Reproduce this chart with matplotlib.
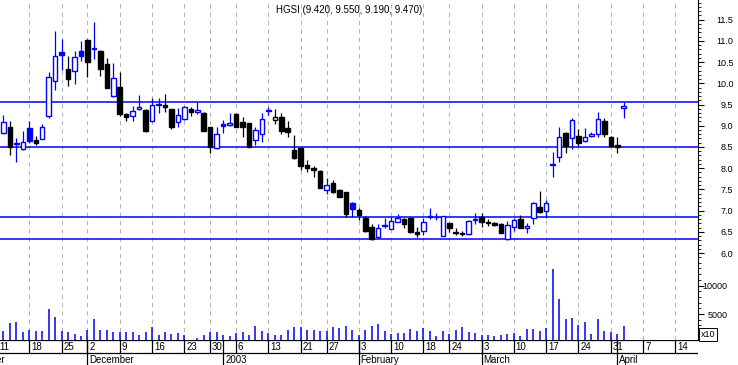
import matplotlib
matplotlib.use("Agg")
import matplotlib.pyplot as plt
from matplotlib.patches import Rectangle
from matplotlib.ticker import FixedLocator, MultipleLocator
import numpy as np
import pandas as pd

plt.rcParams['font.family'] = ['Liberation Sans', 'DejaVu Sans']

title = "HGSI (9.420, 9.550, 9.190, 9.470)"
first_day = "2002-11-12"
holidays = ["2002-11-28", "2002-12-25", "2003-01-01", "2003-01-20", "2003-02-17"]

# daily OHLC, Nov 12 2002 .. Apr 2 2003
opens = [8.82, 8.96, 8.60, 8.45, 8.94, 8.66, 8.69, 9.23, 10.05, 10.73, 10.34, 10.28, 10.76,
         11.02, 10.81, 10.76, 10.45, 9.69, 9.91, 9.28, 9.23, 9.39, 9.37, 9.10, 9.50, 9.49, 9.39,
         9.08, 9.15, 9.39, 9.33, 9.31, 8.96, 8.47,
         9.04, 9.01, 9.28, 9.08, 9.06, 8.66, 8.81, 9.34, 9.13, 9.20, 8.95, 8.43, 8.47, 8.08, 8.01,
         7.94, 7.49, 7.65, 7.49, 7.43, 7.19,
         7.02, 6.82, 6.61, 6.38, 6.65, 6.57, 6.74, 6.81, 6.84, 6.49, 6.53, 6.88, 6.85, 6.41, 6.70,
         6.50, 6.47, 6.45, 6.79,
         6.86, 6.73, 6.72, 6.69, 6.33, 6.62, 6.80, 6.60, 6.82, 7.08, 7.00, 8.08, 8.27, 8.82, 8.70,
         8.76, 8.65, 8.76, 8.81, 9.12, 8.73,
         8.55, 9.42]
highs = [9.25, 9.11, 8.72, 8.88, 9.11, 8.77, 9.04, 10.27, 11.23, 11.03, 10.63, 10.76, 10.99,
         11.03, 11.45, 10.78, 10.59, 10.47, 10.26, 9.29, 9.46, 9.72, 9.40, 9.66, 9.65, 9.75, 9.40,
         9.41, 9.46, 9.45, 9.55, 9.32, 8.97, 8.96,
         9.14, 9.29, 9.29, 9.21, 9.07, 8.96, 9.29, 9.43, 9.39, 9.29, 9.11, 8.78, 8.48, 8.19, 8.05,
         7.95, 7.76, 7.72, 7.50, 7.44, 7.20,
         7.07, 6.88, 6.68, 6.68, 6.84, 6.86, 6.92, 6.82, 6.85, 6.62, 6.84, 7.07, 6.94, 6.87, 6.71,
         6.59, 6.52, 6.78, 6.94,
         6.94, 6.81, 6.74, 6.70, 6.77, 6.82, 6.90, 6.72, 7.21, 7.47, 7.25, 8.39, 8.98, 8.86, 9.18,
         8.92, 8.94, 8.85, 9.33, 9.18, 8.75,
         8.73, 9.55]
lows = [8.80, 8.31, 8.14, 8.44, 8.59, 8.55, 8.68, 9.18, 9.84, 10.31, 9.94, 9.99, 10.53,
        10.15, 10.56, 10.18, 9.88, 9.68, 9.24, 9.10, 9.12, 9.38, 8.85, 9.09, 9.31, 9.33, 8.92,
        8.96, 9.14, 9.24, 9.28, 8.87, 8.35, 8.46,
        8.82, 9.00, 8.97, 8.74, 8.50, 8.55, 8.62, 9.25, 9.04, 8.81, 8.74, 8.22, 7.96, 7.90, 7.80,
        7.53, 7.39, 7.42, 7.32, 6.86, 6.86,
        6.78, 6.51, 6.31, 6.37, 6.59, 6.56, 6.73, 6.60, 6.48, 6.39, 6.43, 6.81, 6.78, 6.40, 6.51,
        6.43, 6.41, 6.44, 6.68,
        6.62, 6.65, 6.64, 6.47, 6.30, 6.53, 6.59, 6.48, 6.68, 6.95, 6.82, 7.79, 8.15, 8.35, 8.45,
        8.52, 8.62, 8.73, 8.74, 8.74, 8.52,
        8.37, 9.19]
closes = [9.08, 8.51, 8.56, 8.62, 8.65, 8.60, 8.98, 10.14, 10.63, 10.67, 10.09, 10.61, 10.65,
          10.51, 10.83, 10.33, 9.90, 10.12, 9.28, 9.20, 9.35, 9.43, 8.88, 9.49, 9.52, 9.43, 8.98,
          9.25, 9.43, 9.32, 9.36, 8.88, 8.51, 8.80,
          8.99, 9.06, 8.98, 8.96, 8.51, 8.90, 9.15, 9.36, 9.21, 8.88, 8.86, 8.23, 8.06, 8.00, 7.97,
          7.54, 7.61, 7.45, 7.33, 6.92, 7.03,
          6.90, 6.52, 6.34, 6.59, 6.67, 6.76, 6.84, 6.68, 6.51, 6.45, 6.73, 6.85, 6.86, 6.87, 6.59,
          6.48, 6.45, 6.76, 6.81,
          6.74, 6.70, 6.67, 6.48, 6.66, 6.78, 6.60, 6.65, 7.18, 6.96, 7.18, 8.10, 8.73, 8.53, 9.14,
          8.60, 8.73, 8.81, 9.15, 8.81, 8.53,
          8.51, 9.47]
volumes = [2070, 3470, 3650, 1840, 2250, 2070, 2070, 5880, 4470, 2070, 1900, 1490, 1140,
           2250, 4120, 2200, 2200, 1900, 1900, 1840, 1840, 1320, 1900, 2720, 1320, 1900, 1490,
           1670, 1320, 300, 840, 1320, 1900, 1900,
           1320, 1140, 1670, 1900, 1320, 2900, 2070, 1670, 1320, 1320, 2200, 2720, 2720, 2200, 2200,
           2020, 2020, 2720, 2540, 2900, 2200,
           1320, 2200, 2900, 3250, 2020, 1490, 1670, 1670, 2370, 2020, 2540, 2020, 1140, 2020, 1490,
           2200, 2720, 1840, 1670,
           1320, 1320, 1140, 1320, 1490, 1670, 1140, 2370, 2370, 2020, 2540, 12900, 7630, 4120, 4300,
           3070, 3600, 1490, 4120, 2020, 1840,
           1490, 2900]
levels = [9.55, 8.5, 6.85, 6.33]
month_names = {11: "November", 12: "December", 1: "2003", 2: "February", 3: "March", 4: "April"}

blue = "#0000ff"

# trading calendar -> integer x positions
days = pd.bdate_range("2002-11-01", "2003-04-30")
days = days[~days.isin(pd.to_datetime(holidays))]
start = days.get_loc(pd.Timestamp(first_day))
pos = np.arange(len(days)) - start
weeks = days.to_period("W")
week_start = np.r_[True, weeks[1:] != weeks[:-1]]
month_start = np.r_[True, days.month[1:] != days.month[:-1]]

x = pos[start:start + len(closes)]
xlim = (-0.536, 107.5)

fig = plt.figure(figsize=(7.38, 3.65), dpi=100)
W, H = 738, 365
ax = fig.add_axes([0, 1 - 258 / H, 698 / W, 258 / H])
axv = fig.add_axes([0, 25 / H, 698 / W, 82 / H])
axd = fig.add_axes([0, 0, 698 / W, 25 / H])

grid_kw = dict(color="#b4b4b4", linestyle=(0, (4, 4)), linewidth=0.75)
for a in (ax, axv):
    a.set_xticks(pos[week_start])
    a.set_xlim(*xlim)
    a.grid(axis="x", **grid_kw)
    a.tick_params(axis="x", length=0, labelbottom=False)
    for s in ("top", "left", "bottom"):
        a.spines[s].set_visible(False)
    a.spines["right"].set_linewidth(0.8)
    a.yaxis.tick_right()
    a.set_axisbelow(True)

# price panel
prev = np.r_[closes[0] - 1, closes[:-1]]
w = 0.7
for xi, o, h, l, c, p in zip(x, opens, highs, lows, closes, prev):
    col = blue if c >= p else "black"
    ax.vlines(xi, l, h, color=col, linewidth=0.9, zorder=3)
    lo, hi = min(o, c), max(o, c)
    face = col if c < o else "white"
    ax.add_patch(Rectangle((xi - w / 2, lo), w, max(hi - lo, 0.012), facecolor=face,
                           edgecolor=col, linewidth=1.0, zorder=4))
for lv in levels:
    ax.axhline(lv, color=blue, linewidth=1.1, zorder=2)

ax.set_xlim(*xlim)
ax.set_ylim(5.888, 11.959)
ax.yaxis.set_major_locator(FixedLocator(np.arange(6.0, 11.6, 0.5)))
ax.yaxis.set_minor_locator(MultipleLocator(0.1))
ax.set_yticklabels(["%.1f" % v for v in np.arange(6.0, 11.6, 0.5)])
ax.tick_params(axis="y", which="major", length=4, width=0.8, pad=21.5, labelsize=6.5)
ax.tick_params(axis="y", which="minor", length=2, width=0.6)
for t in ax.get_yticklabels():
    t.set_horizontalalignment("right")

# volume panel
axv.vlines(x, 0, volumes, color=blue, linewidth=1.1)
axv.set_xlim(*xlim)
axv.set_ylim(440, 14825)
axv.yaxis.set_major_locator(FixedLocator([5000, 10000]))
axv.yaxis.set_minor_locator(MultipleLocator(1000))
axv.set_yticklabels(["5000", "10000"])
axv.tick_params(axis="y", which="major", length=4, width=0.8, pad=17, labelsize=6.5)
axv.tick_params(axis="y", which="minor", length=2, width=0.6)
for t in axv.get_yticklabels():
    t.set_horizontalalignment("right")
fig.text(701 / W, 1 - 334.5 / H, "x10", fontsize=6.5, va="center", ha="left",
         bbox=dict(boxstyle="square,pad=0.2", facecolor="white", edgecolor="black", linewidth=0.7))

# date axis
axd.set_xlim(*xlim)
axd.set_ylim(0, 25)
axd.axis("off")
axd.axhline(24.6, color="black", linewidth=0.9)
axd.axhline(11.7, color="black", linewidth=0.9)
for p, d in zip(pos[week_start], days[week_start]):
    if xlim[0] - 2 < p < xlim[1] - 1:
        axd.vlines(p, 11.7, 25, color="black", linewidth=0.9)
        axd.text(p + 0.3, 18.0, str(d.day), fontsize=7, va="center", ha="left", clip_on=False)
for p, d in zip(pos[month_start], days[month_start]):
    if p < xlim[1]:
        axd.vlines(p, 0, 25, color="black", linewidth=0.9)
        axd.text(p + 0.3, 5.0, month_names[d.month], fontsize=7, va="center", ha="left",
                 clip_on=False)

fig.text(276 / W, 1 - 10 / H, title, fontsize=7, va="center", ha="left")

fig.savefig("out.png", dpi=100)
